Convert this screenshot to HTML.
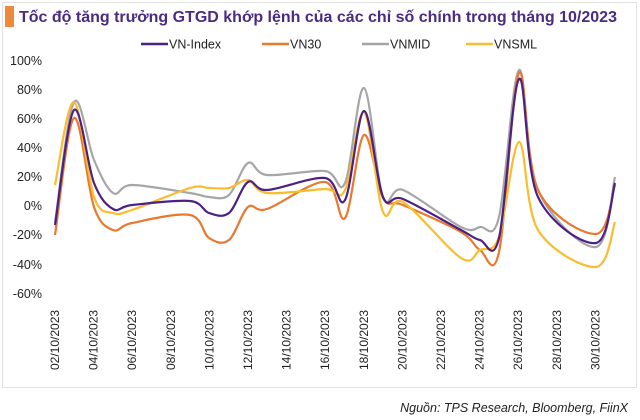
<!DOCTYPE html>
<html><head><meta charset="utf-8"><style>
body{margin:0;background:#fff;}
svg{display:block;font-family:"Liberation Sans",sans-serif;}
</style></head><body>
<svg id="s" width="640" height="420" xmlns="http://www.w3.org/2000/svg">
<rect x="2.5" y="2.5" width="634" height="385" fill="none" stroke="#e2e2e2"/>
<rect x="5" y="6" width="9" height="21" fill="#ef8a3c"/>
<text x="19" y="22" font-size="16" font-weight="bold" fill="#4b2a84">Tốc độ tăng trưởng GTGD khớp lệnh của các chỉ số chính trong tháng 10/2023</text>
<g font-size="12.5" fill="#222">
<line x1="141" y1="44" x2="168" y2="44" stroke="#4b2185" stroke-width="2.5"/><text x="169" y="48.5">VN-Index</text>
<line x1="262" y1="44" x2="289" y2="44" stroke="#e8792f" stroke-width="2.5"/><text x="290" y="48.5">VN30</text>
<line x1="362" y1="44" x2="389" y2="44" stroke="#a6a6a6" stroke-width="2.5"/><text x="390" y="48.5">VNMID</text>
<line x1="466" y1="44" x2="493" y2="44" stroke="#fbbc2d" stroke-width="2.5"/><text x="494" y="48.5">VNSML</text>
</g>
<g font-size="12.5" fill="#222" text-anchor="end">
<text x="42" y="65">100%</text><text x="42" y="94">80%</text><text x="42" y="123">60%</text><text x="42" y="152">40%</text><text x="42" y="181">20%</text><text x="42" y="210">0%</text><text x="42" y="239">-20%</text><text x="42" y="269">-40%</text><text x="42" y="298">-60%</text>
</g>
<g id="xl" font-size="12" fill="#222"></g>
<g id="ln" fill="none" stroke-width="2.2"></g>
<text x="628" y="412" font-size="12.5" font-style="italic" text-anchor="end" fill="#222">Nguồn: TPS Research, Bloomberg, FiinX</text>
</svg>
<script>
var X=[55,74,94,113,132,190,209,229,248,267,325,345,364,383,403,461,480,499,519,538,596,615];
var D={
"#a6a6a6":[223,102,160,193,185,193,197,195,163,175,171,183,88,197,190,227,227,217,70,190,247,177],
"#e8792f":[235,118,207,230,223,215,238,240,207,209,182,218,135,198,205,232,250,252,73,190,234,185],
"#fbbc2d":[185,102,197,213,210,188,188,188,180,193,189,190,112,212,202,258,250,237,142,230,267,222],
"#4b2185":[225,110,183,209,205,201,213,213,182,190,178,200,111,197,199,230,240,238,79,197,243,183]};
var ns="http://www.w3.org/2000/svg",ln=document.getElementById("ln");
for(var c in D){var y=D[c],d="M"+X[0]+","+y[0];
for(var i=0;i<X.length-1;i++){var p0=i?i-1:i,p3=i+2<X.length?i+2:i+1,t=6;
d+=" C"+(X[i]+(X[i+1]-X[p0])/t)+","+(y[i]+(y[i+1]-y[p0])/t)+" "+(X[i+1]-(X[p3]-X[i])/t)+","+(y[i+1]-(y[p3]-y[i])/t)+" "+X[i+1]+","+y[i+1];}
var p=document.createElementNS(ns,"path");p.setAttribute("d",d);p.setAttribute("stroke",c);ln.appendChild(p);}
var xl=document.getElementById("xl");
for(var k=2;k<=30;k+=2){var x=55+(k-2)*19.3+4,t=document.createElementNS(ns,"text");
t.setAttribute("transform","translate("+x+",370) rotate(-90)");t.textContent=(k<10?"0":"")+k+"/10/2023";xl.appendChild(t);}
</script>
</body></html>
